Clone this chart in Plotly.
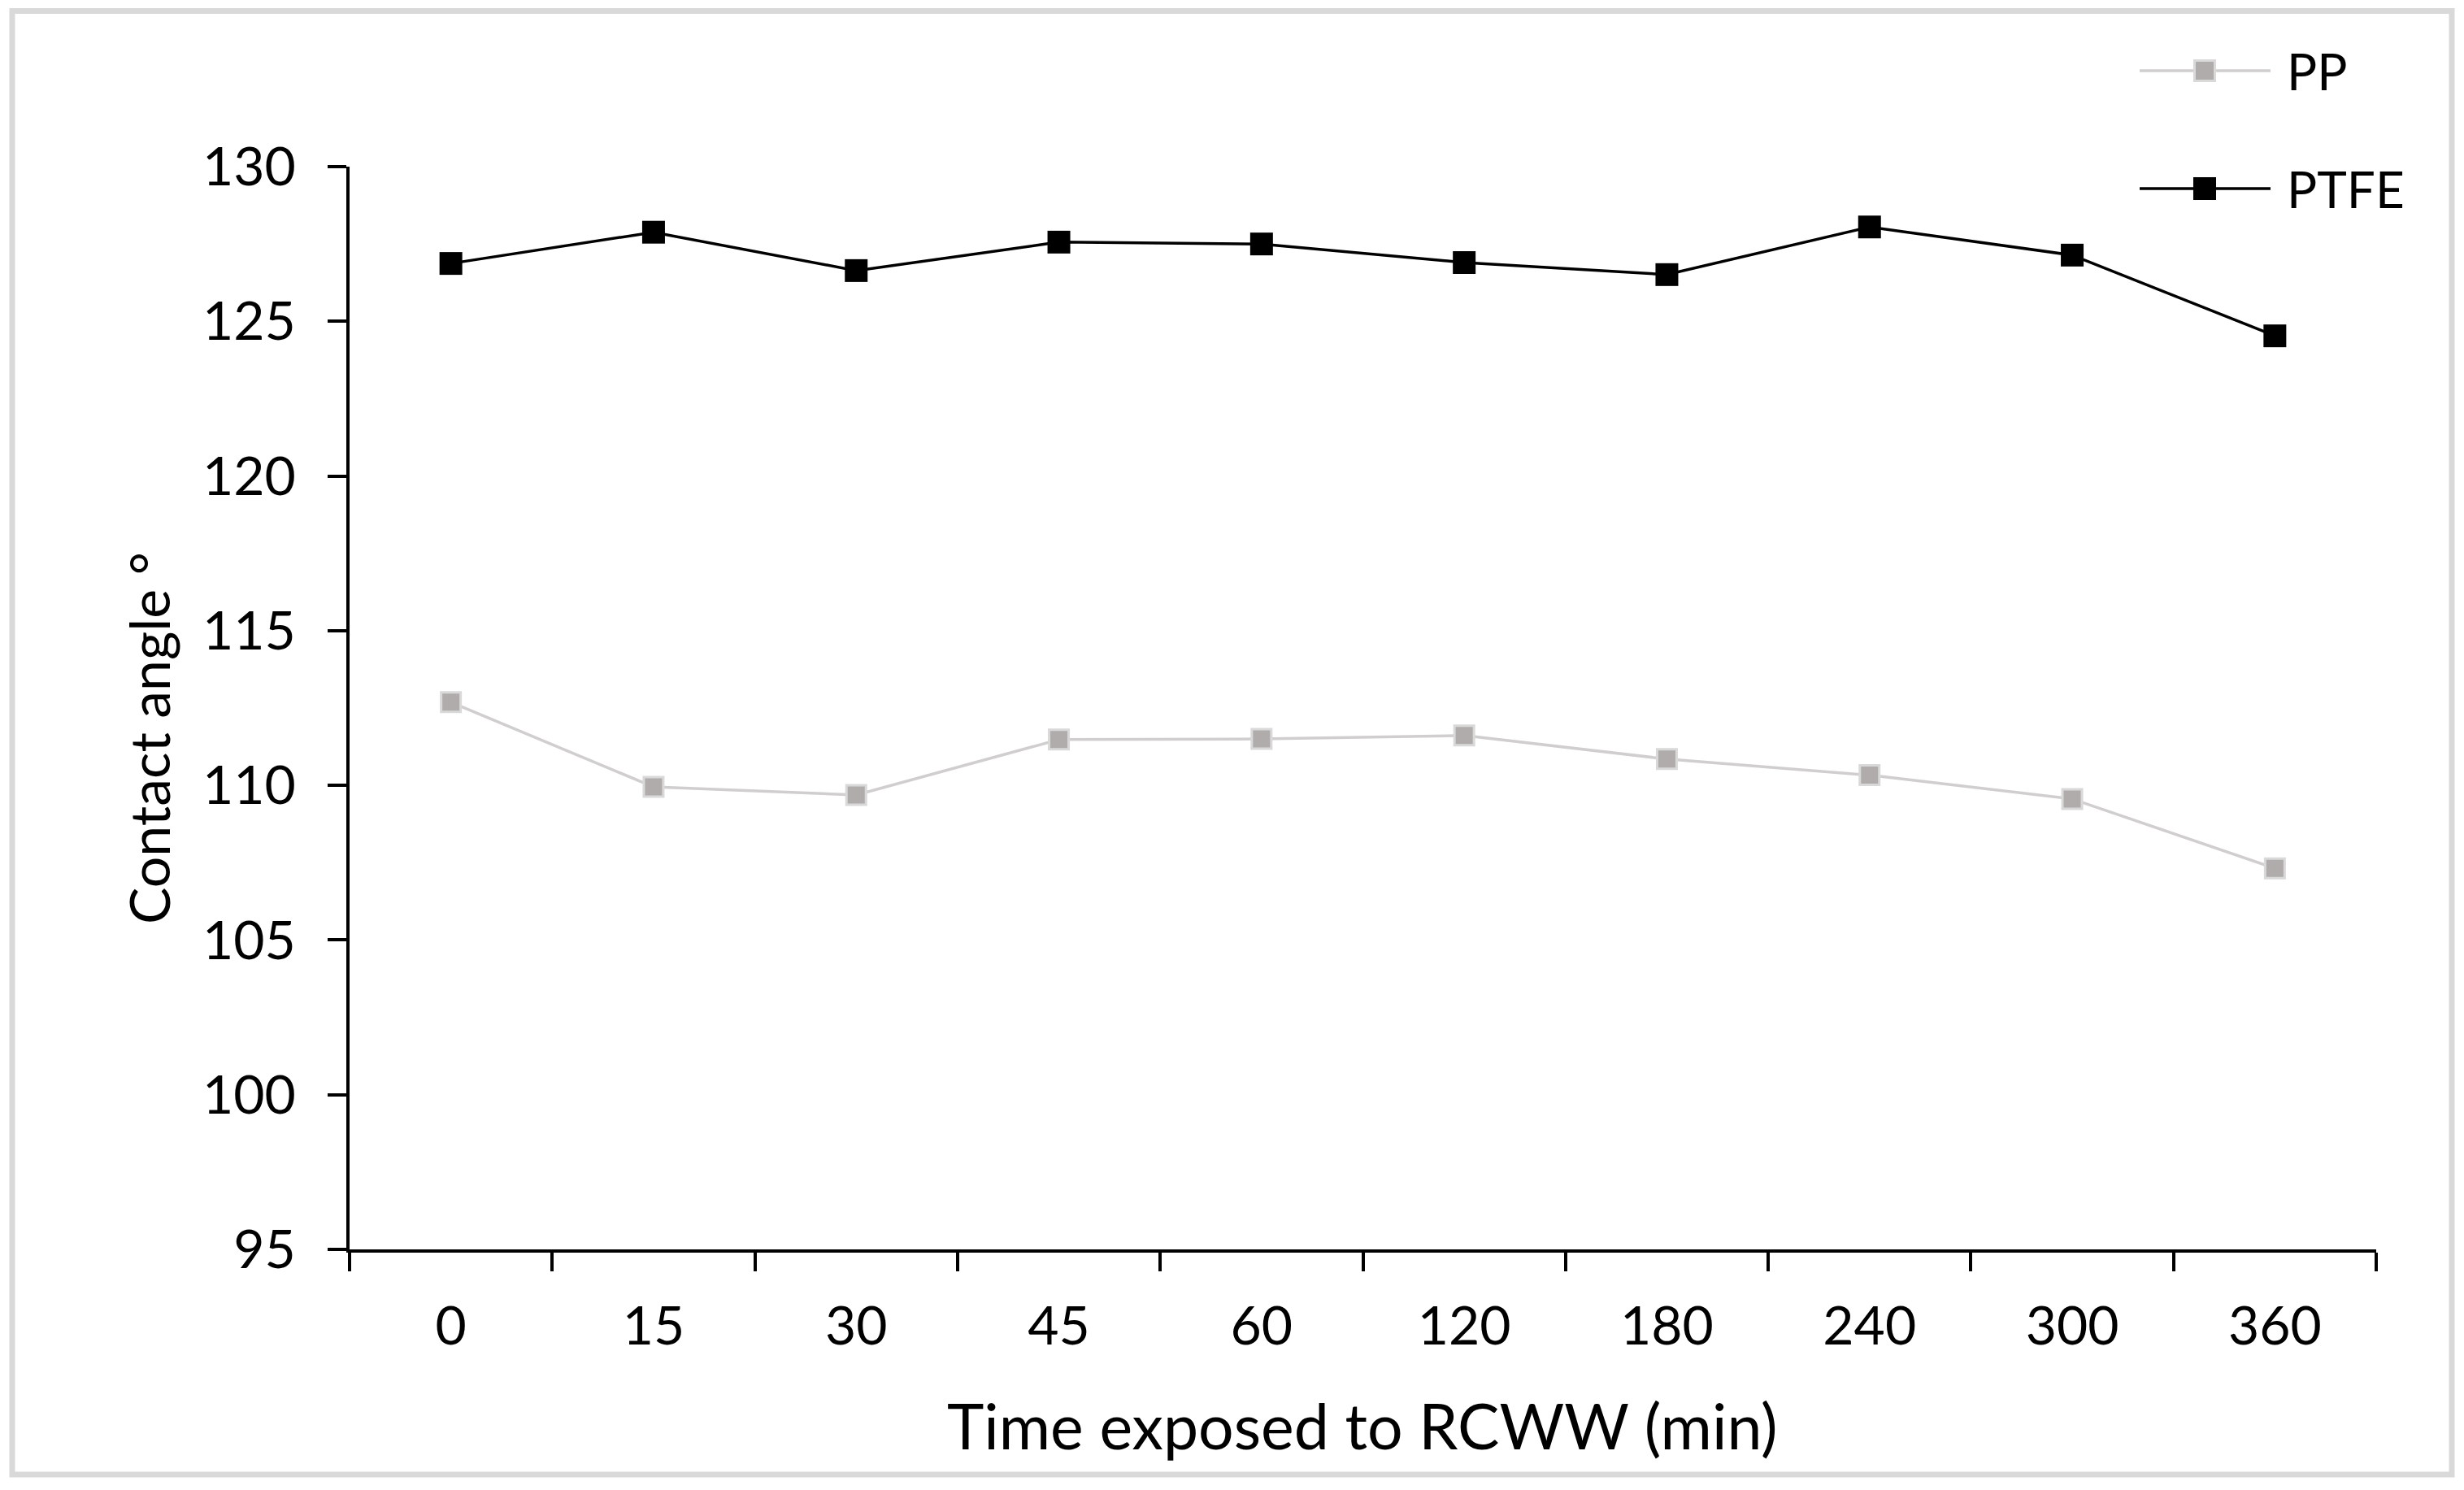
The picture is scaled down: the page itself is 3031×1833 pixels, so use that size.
import plotly.graph_objects as go

# ---- data ----
categories = ["0", "15", "30", "45", "60", "120", "180", "240", "300", "360"]
pp_values = [112.69, 109.95, 109.69, 111.48, 111.50, 111.61, 110.85, 110.33, 109.56, 107.32]
ptfe_values = [126.87, 127.88, 126.64, 127.56, 127.50, 126.90, 126.51, 128.05, 127.14, 124.53]
y_ticks = [95, 100, 105, 110, 115, 120, 125, 130]
series_names = ["PP", "PTFE"]
x_title = "Time exposed to RCWW (min)"
y_title = "Contact angle °"

# ---- layout geometry (pixels) ----
W, H = 3031, 1833
L, R, T, B = 430, 108, 205, 296
PW, PH = W - L - R, H - T - B


def px(x):
    return (x - L) / PW


def py(y):
    return (H - B - y) / PH


FONT = "Lato"
PP_LINE = "#d0cece"
PP_FILL = "#b0acac"
PP_EDGE = "#d9d9d9"

fig = go.Figure()
fig.add_trace(go.Scatter(
    x=categories, y=pp_values, name=series_names[0], mode="lines+markers",
    line=dict(color=PP_LINE, width=3.5),
    marker=dict(symbol="square", size=24, color=PP_FILL, line=dict(color=PP_EDGE, width=3)),
    showlegend=False,
))
fig.add_trace(go.Scatter(
    x=categories, y=ptfe_values, name=series_names[1], mode="lines+markers",
    line=dict(color="black", width=3.5),
    marker=dict(symbol="square", size=28, color="black", line=dict(width=0)),
    showlegend=False,
))

shapes = []
annotations = []
# outer chart border
shapes.append(dict(type="rect", xref="paper", yref="paper",
                   x0=px(15), x1=px(3016), y0=py(1814), y1=py(13.5),
                   line=dict(color="#d9d9d9", width=7), fillcolor="rgba(0,0,0,0)", layer="below"))

# custom legend
legend_rows = [
    (series_names[0], 87, PP_LINE, PP_FILL, PP_EDGE, 25),
    (series_names[1], 232, "black", "black", "black", 28),
]
for name, yy, lc, fc, ec, s in legend_rows:
    shapes.append(dict(type="line", xref="paper", yref="paper",
                       x0=px(2632), x1=px(2793), y0=py(yy), y1=py(yy),
                       line=dict(color=lc, width=3.5)))
    shapes.append(dict(type="rect", xref="paper", yref="paper",
                       x0=px(2712 - s / 2), x1=px(2712 + s / 2),
                       y0=py(yy + s / 2), y1=py(yy - s / 2),
                       fillcolor=fc, line=dict(color=ec, width=3 if ec != fc else 0)))
    annotations.append(dict(text=name, xref="paper", yref="paper",
                            x=px(2811), y=py(yy), xanchor="left", yanchor="middle",
                            showarrow=False, font=dict(family=FONT, size=62, color="black")))

# axis titles
annotations.append(dict(text=y_title, xref="paper", yref="paper", x=px(182), y=py(908),
                        xanchor="center", yanchor="middle", textangle=-90, showarrow=False,
                        font=dict(family=FONT, size=68, color="black")))
annotations.append(dict(text=x_title, xref="paper", yref="paper", x=px(1676), y=py(1753),
                        xanchor="center", yanchor="middle", showarrow=False,
                        font=dict(family=FONT, size=77, color="black")))

fig.update_layout(
    width=W, height=H,
    margin=dict(l=L, r=R, t=T, b=B, pad=0),
    paper_bgcolor="white", plot_bgcolor="white",
    font=dict(family=FONT, size=66, color="black"),
    shapes=shapes, annotations=annotations,
    showlegend=False,
)
fig.update_xaxes(
    type="category", categoryorder="array", categoryarray=categories,
    range=[-0.5, len(categories) - 0.5],
    showline=True, linecolor="black", linewidth=4,
    ticks="outside", ticklen=23, tickwidth=4, tickcolor="black", tickson="boundaries",
    showgrid=False, zeroline=False, ticklabelstandoff=34,
    tickfont=dict(family=FONT, size=66, color="black"),
)
fig.update_yaxes(
    range=[95, 130], tickvals=y_ticks, ticktext=[str(v) for v in y_ticks],
    showline=True, linecolor="black", linewidth=4,
    ticks="outside", ticklen=23, tickwidth=4, tickcolor="black",
    showgrid=False, zeroline=False, ticklabelstandoff=26,
    tickfont=dict(family=FONT, size=66, color="black"),
)

fig.write_html("out.html", config={"displayModeBar": False},
               post_script="document.body.style.margin='0';document.body.style.overflow='hidden';")
